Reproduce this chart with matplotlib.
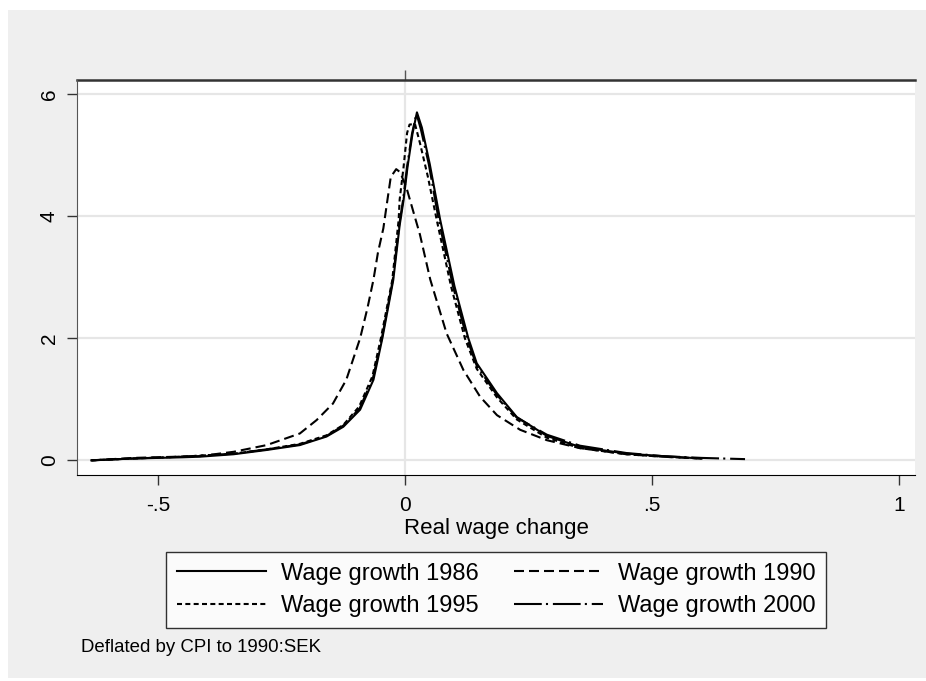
import matplotlib
matplotlib.use("Agg")
import matplotlib.pyplot as plt
from matplotlib.patches import Rectangle

# kernel density estimates
x_1986 = [-0.635, -0.55, -0.45, -0.415, -0.347, -0.28, -0.213, -0.159, -0.125, -0.091, -0.064,
          -0.046, -0.024, -0.011, -0.003, 0.005, 0.015, 0.024, 0.034, 0.050, 0.071, 0.100,
          0.128, 0.145, 0.186, 0.226, 0.287, 0.354, 0.448, 0.52, 0.60]
y_1986 = [0.00, 0.03, 0.05, 0.06, 0.10, 0.17, 0.25, 0.39, 0.55, 0.83, 1.32,
          2.00, 2.95, 3.85, 4.27, 4.81, 5.35, 5.70, 5.45, 4.85, 3.94, 2.85,
          2.00, 1.59, 1.10, 0.71, 0.40, 0.22, 0.11, 0.07, 0.03]

x_1990 = [-0.635, -0.55, -0.415, -0.347, -0.28, -0.213, -0.179, -0.146, -0.119, -0.091, -0.076,
          -0.064, -0.055, -0.044, -0.036, -0.029, -0.018, -0.010, 0.003, 0.020, 0.030, 0.051,
          0.084, 0.118, 0.152, 0.186, 0.233, 0.287, 0.354, 0.448, 0.52, 0.60]
y_1990 = [0.00, 0.04, 0.07, 0.14, 0.25, 0.44, 0.66, 0.93, 1.32, 2.00, 2.50,
          2.96, 3.40, 3.80, 4.25, 4.64, 4.77, 4.72, 4.46, 3.98, 3.70, 2.96,
          2.08, 1.48, 1.04, 0.74, 0.50, 0.33, 0.20, 0.10, 0.06, 0.03]

x_1995 = [-0.635, -0.55, -0.45, -0.347, -0.28, -0.213, -0.159, -0.125, -0.093, -0.066, -0.049,
          -0.026, -0.013, -0.011, -0.003, 0.004, 0.009, 0.020, 0.030, 0.046, 0.064, 0.093,
          0.121, 0.145, 0.186, 0.226, 0.287, 0.354, 0.448, 0.52, 0.60]
y_1995 = [0.00, 0.03, 0.06, 0.11, 0.18, 0.27, 0.41, 0.58, 0.88, 1.38, 2.00,
          2.95, 3.94, 4.27, 4.81, 5.36, 5.50, 5.51, 5.20, 4.65, 3.94, 2.85,
          2.00, 1.50, 1.03, 0.67, 0.37, 0.20, 0.10, 0.06, 0.03]

x_2000 = [-0.635, -0.55, -0.45, -0.347, -0.28, -0.213, -0.159, -0.125, -0.092, -0.065, -0.047,
          -0.025, -0.012, -0.004, 0.004, 0.014, 0.023, 0.032, 0.048, 0.068, 0.097, 0.125,
          0.145, 0.186, 0.226, 0.287, 0.354, 0.448, 0.52, 0.60, 0.688]
y_2000 = [0.00, 0.03, 0.06, 0.11, 0.18, 0.26, 0.40, 0.57, 0.85, 1.35, 2.00,
          2.95, 3.85, 4.27, 4.81, 5.35, 5.68, 5.42, 4.85, 3.94, 2.85, 2.00,
          1.55, 1.07, 0.70, 0.42, 0.24, 0.12, 0.07, 0.04, 0.02]

xticks = [-0.5, 0, 0.5, 1]
xtick_labels = ["-.5", "0", ".5", "1"]
yticks = [0, 2, 4, 6]
labels = ["Wage growth 1986", "Wage growth 1990", "Wage growth 1995", "Wage growth 2000"]

plt.rcParams["font.family"] = ["Liberation Sans", "DejaVu Sans"]
plt.rcParams["lines.scale_dashes"] = False

fig = plt.figure(figsize=(9.26, 6.81), dpi=100, facecolor="white")
fig.patches.append(Rectangle((8 / 926, 3 / 681), 918 / 926, 668 / 681,
                             transform=fig.transFigure, facecolor="#efefef",
                             edgecolor="none", zorder=-10))

ax = fig.add_axes([77 / 926, 1 - 475 / 681, 838 / 926, 395 / 681])
ax.set_facecolor("white")

for yv in yticks:
  ax.axhline(yv, color="#e6e6e6", lw=1.6, zorder=0)
ax.axvline(0, color="#e6e6e6", lw=1.6, zorder=0)

lw = 1.5
l86, = ax.plot(x_1986, y_1986, color="black", lw=lw, ls="-")
l90, = ax.plot(x_1990, y_1990, color="black", lw=lw, dashes=(7.2, 3.6))
l95, = ax.plot(x_1995, y_1995, color="black", lw=lw, dashes=(3.6, 2.4))
l00, = ax.plot(x_2000, y_2000, color="black", lw=lw, dashes=(20, 3, 1.5, 3.5))

ax.set_xlim(-0.664, 1.032)
ax.set_ylim(-0.24, 6.23)
ax.set_xticks(xticks)
ax.set_xticklabels(xtick_labels)
ax.set_yticks(yticks)
ax.set_yticklabels([str(v) for v in yticks], rotation=90, va="center")
ax.tick_params(axis="both", labelsize=15, length=7, width=1, color="#333333")
ax.tick_params(axis="x", pad=8)
ax.tick_params(axis="y", pad=6)
ax.set_xlabel("Real wage change", fontsize=16, labelpad=2)

ax.spines["right"].set_visible(False)
ax.spines["top"].set_visible(False)
ax.spines["left"].set_color("#555555")
ax.spines["bottom"].set_color("black")

top = ax.secondary_xaxis("top")
top.set_xticks([0])
top.set_xticklabels([])
top.tick_params(length=7, width=1, color="#555555")
top.spines["top"].set_linewidth(1.8)
top.spines["top"].set_color("#333333")

# legend filled row by row: 1986, 1990 / 1995, 2000
leg = fig.legend([l86, l95, l90, l00], [labels[0], labels[2], labels[1], labels[3]],
                 ncol=2, loc="center", bbox_to_anchor=(496 / 926, 1 - 590 / 681),
                 fontsize=17, frameon=True, fancybox=False, edgecolor="black",
                 handlelength=3.8, handletextpad=0.6, columnspacing=1.5,
                 borderpad=0.45, labelspacing=0.45)
leg.get_frame().set_linewidth(1.0)
leg.get_frame().set_facecolor("white")

fig.text(81 / 926, 1 - 648 / 681, "Deflated by CPI to 1990:SEK", fontsize=13.4,
         ha="left", va="center")

fig.savefig("out.png", dpi=100, facecolor=fig.get_facecolor())
